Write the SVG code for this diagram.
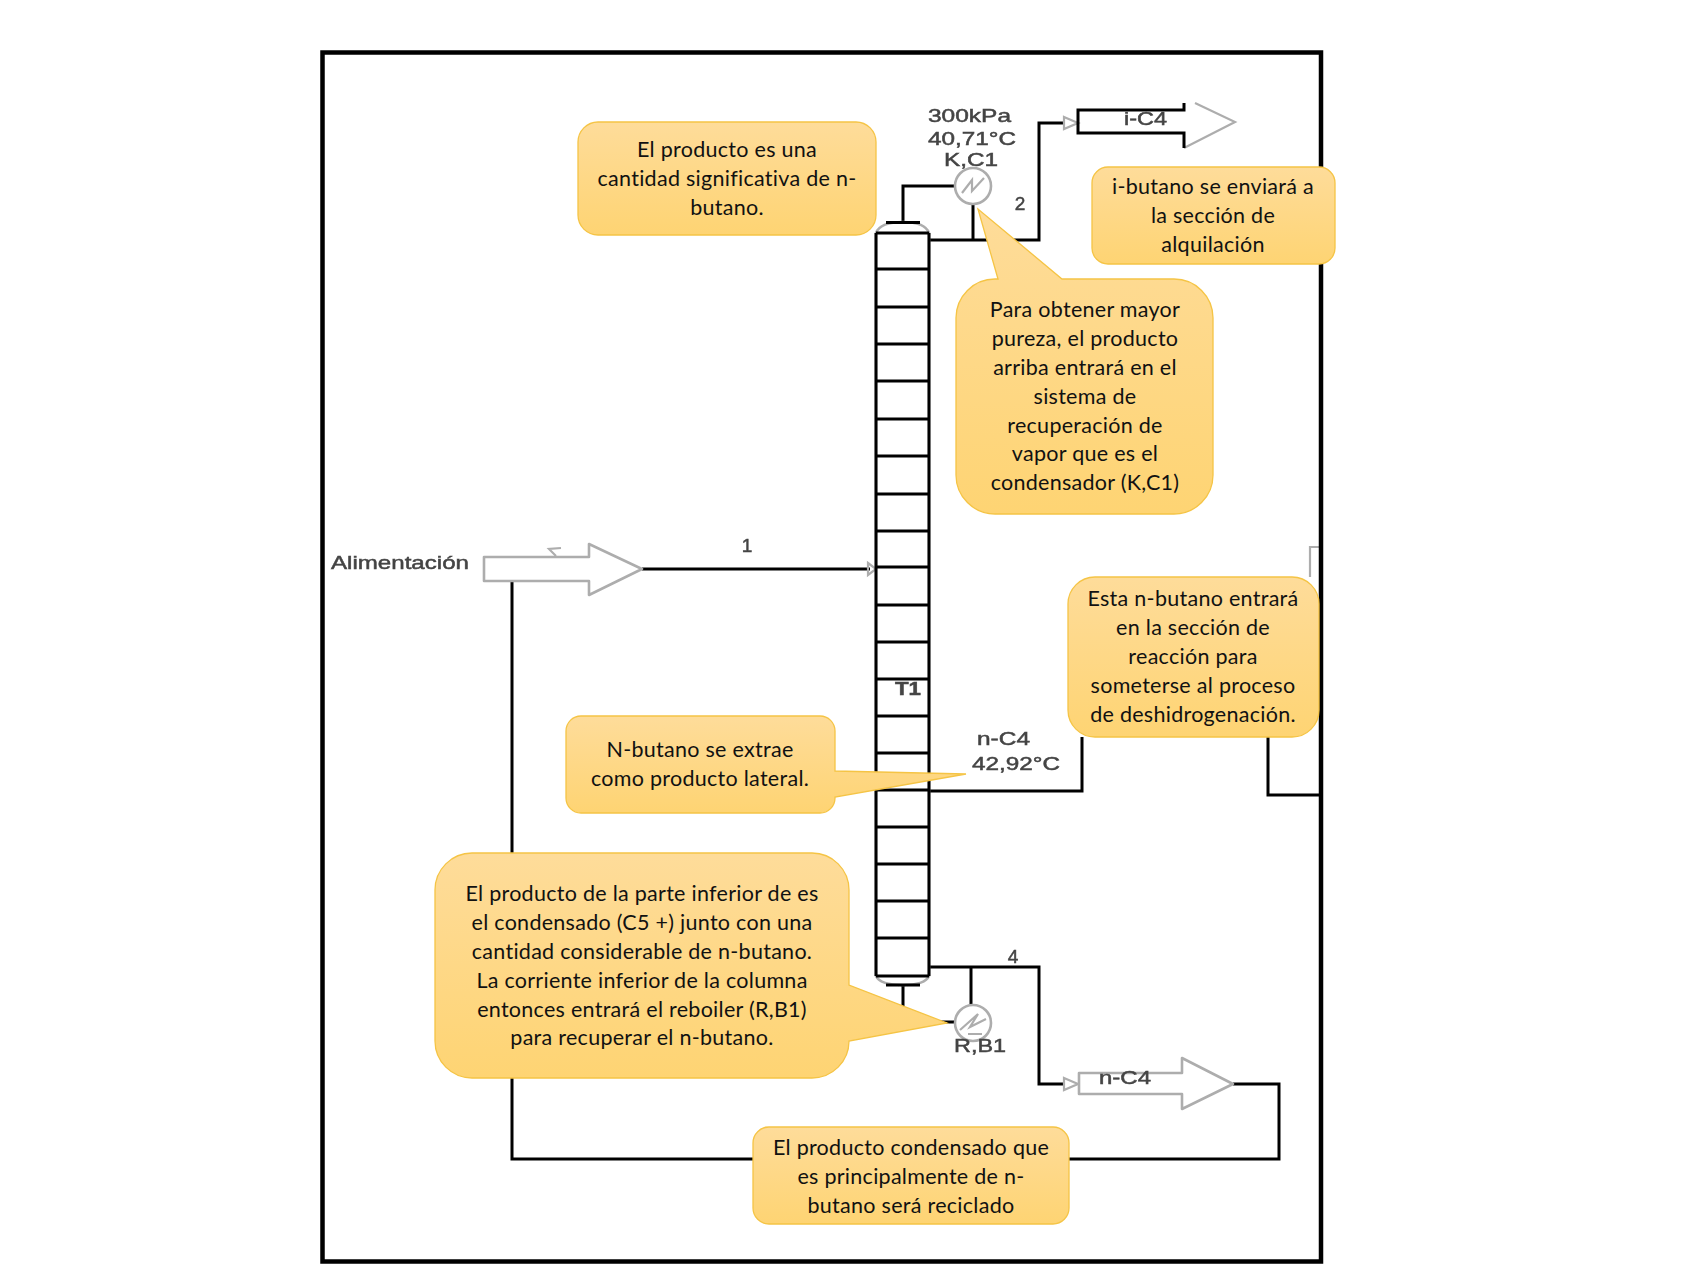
<svg xmlns="http://www.w3.org/2000/svg" width="1706" height="1280" viewBox="0 0 1706 1280">
<style>
.p{fill:none;stroke:#000;stroke-width:3;stroke-linejoin:miter}
.g{fill:#fff;stroke:#adadad;stroke-width:2.600;stroke-linejoin:round}
.g0{fill:none;stroke:#adadad;stroke-width:2.200}
.d{font-family:"Liberation Sans",Arial,sans-serif;font-size:19px;fill:#444;stroke:#444;stroke-width:.5}
.m{text-anchor:middle}
.c{fill:url(#cg);stroke:#f5c445;stroke-width:1.300}
.t{font-family:Lato,"Liberation Sans",sans-serif;font-size:21.500px;letter-spacing:.28px;fill:#111;text-anchor:middle}
</style>
<defs>
<linearGradient id="cg" x1="0" y1="0" x2="0" y2="1"><stop offset="0" stop-color="#fedc9a"/><stop offset="1" stop-color="#fed473"/></linearGradient>
<filter id="b" x="-5%" y="-5%" width="110%" height="110%"><feGaussianBlur stdDeviation="0.75"/></filter>
</defs>
<rect width="1706" height="1280" fill="#fff"/>
<g id="scan" filter="url(#b)">
<g id="connectors">
<path class="p" d="M642 569H870"/>
<path class="p" d="M512 581V1159H1279V1084H1233"/>
<path class="p" d="M929 240H1039V123H1063"/>
<path class="p" d="M903 222V186H955"/>
<path class="p" d="M973 198V240"/>
<path class="p" d="M929 791H1082V737"/>
<path class="p" d="M1268 737V795H1319"/>
<path class="g0" d="M1310 577V547H1319"/>
<path class="p" d="M929 967H1039V1084H1063"/>
<path class="p" d="M971 967V1008"/>
<path class="p" d="M903 985V1022H955"/>
<path class="g0" d="M868 563L876 569L868 575Z"/>
<path class="g0" d="M1064 117L1078 123L1064 129Z"/>
<path class="g0" d="M1064 1078L1078 1084L1064 1090Z"/>
</g>
<g id="column-T1">
<path class="g" d="M876 233Q880 222 903 222Q925 222 929 233V976Q925 985 903 985Q880 985 876 976Z"/>
<path class="p" d="M886 222.500H920M886 985H920M876 233V976M929 233V976"/>
<path class="p" stroke-width="2.600" d="M876 233H929M876 269H929M876 307H929M876 344H929M876 381H929M876 419H929M876 456H929M876 494H929M876 531H929M876 567H929M876 605H929M876 642H929M876 679H929M876 716H929M876 753H929M876 790H929M876 827H929M876 864H929M876 901H929M876 938H929M876 976H929"/>
<text class="d" x="895" y="695" textLength="26" lengthAdjust="spacingAndGlyphs" font-weight="bold">T1</text>
</g>
<g id="feed">
<path class="g" d="M484 557H589V544L642 569L589 595V581H484Z"/>
<path class="g0" d="M561 548L549 549L556 556"/>
<text class="d" x="331" y="569" textLength="138" lengthAdjust="spacingAndGlyphs">Alimentación</text>
<text class="d m" x="747" y="552">1</text>
</g>
<g id="condenser">
<circle class="g" cx="973" cy="186" r="18"/>
<path class="g0" d="M962 193L972 180V191L984 178"/>
<text class="d" x="928" y="122" textLength="83" lengthAdjust="spacingAndGlyphs">300kPa</text>
<text class="d" x="928" y="145" textLength="88" lengthAdjust="spacingAndGlyphs">40,71°C</text>
<text class="d" x="944" y="166" textLength="54" lengthAdjust="spacingAndGlyphs">K,C1</text>
<text class="d m" x="1020" y="210">2</text>
</g>
<g id="product-iC4">
<path class="g0" d="M1195 103L1235 122L1184 148"/>
<path class="p" d="M1184 103V110H1078V133H1184V148"/>
<text class="d" x="1124" y="125" textLength="43" lengthAdjust="spacingAndGlyphs">i-C4</text>
</g>
<g id="label-nC4">
<text class="d" x="977" y="745" textLength="53" lengthAdjust="spacingAndGlyphs">n-C4</text>
<text class="d" x="972" y="770" textLength="88" lengthAdjust="spacingAndGlyphs">42,92°C</text>
</g>
<g id="reboiler">
<circle class="g" cx="973" cy="1023" r="18"/>
<path class="g0" d="M960 1030L978 1014L970 1027L986 1019M968 1034H982"/>
<text class="d" x="954" y="1052" textLength="52" lengthAdjust="spacingAndGlyphs">R,B1</text>
<text class="d m" x="1013" y="963">4</text>
</g>
<g id="product-nC4">
<path class="g" d="M1079 1073H1182V1058L1233 1084L1182 1109V1094H1079Z"/>
<text class="d" x="1099" y="1084" textLength="52" lengthAdjust="spacingAndGlyphs">n-C4</text>
</g>
</g>
<rect id="frame" x="322.500" y="52.500" width="998.500" height="1209" fill="none" stroke="#000" stroke-width="4.500"/>
<g id="callout-1"><rect class="c" x="578" y="122" width="298" height="113" rx="20"/>
<text class="t" x="727" y="157">El producto es una</text><text class="t" x="727" y="186">cantidad significativa de n-</text><text class="t" x="727" y="215">butano.</text></g>
<g id="callout-2"><rect class="c" x="1092" y="167" width="243" height="97" rx="16"/>
<text class="t" x="1213" y="194">i-butano se enviará a</text><text class="t" x="1213" y="223">la sección de</text><text class="t" x="1213" y="252">alquilación</text></g>
<g id="callout-3"><path class="c" d="M998 279L978 209L1062 279H1174A39 39 0 0 1 1213 318V475A39 39 0 0 1 1174 514H995A39 39 0 0 1 956 475V318A39 39 0 0 1 995 279Z"/>
<text class="t" x="1085" y="317">Para obtener mayor</text><text class="t" x="1085" y="346">pureza, el producto</text><text class="t" x="1085" y="375">arriba entrará en el</text><text class="t" x="1085" y="404">sistema de</text><text class="t" x="1085" y="433">recuperación de</text><text class="t" x="1085" y="461">vapor que es el</text><text class="t" x="1085" y="490">condensador (K,C1)</text></g>
<g id="callout-4"><rect class="c" x="1068" y="577" width="251" height="160" rx="27"/>
<text class="t" x="1193" y="606">Esta n-butano entrará</text><text class="t" x="1193" y="635">en la sección de</text><text class="t" x="1193" y="664">reacción para</text><text class="t" x="1193" y="693">someterse al proceso</text><text class="t" x="1193" y="722">de deshidrogenación.</text></g>
<g id="callout-5"><path class="c" d="M581 716H820A15 15 0 0 1 835 731V771L966 774L835 797V798A15 15 0 0 1 820 813H581A15 15 0 0 1 566 798V731A15 15 0 0 1 581 716Z"/>
<text class="t" x="700" y="757">N-butano se extrae</text><text class="t" x="700" y="786">como producto lateral.</text></g>
<g id="callout-6"><path class="c" d="M472 853H812A37 37 0 0 1 849 890V985L947 1023L849 1041A37 37 0 0 1 812 1078H472A37 37 0 0 1 435 1041V890A37 37 0 0 1 472 853Z"/>
<text class="t" x="642" y="901">El producto de la parte inferior de es</text><text class="t" x="642" y="930">el condensado (C5 +) junto con una</text><text class="t" x="642" y="959">cantidad considerable de n-butano.</text><text class="t" x="642" y="988">La corriente inferior de la columna</text><text class="t" x="642" y="1017">entonces entrará el reboiler (R,B1)</text><text class="t" x="642" y="1045">para recuperar el n-butano.</text></g>
<g id="callout-7"><rect class="c" x="753" y="1127" width="316" height="97" rx="16"/>
<text class="t" x="911" y="1155">El producto condensado que</text><text class="t" x="911" y="1184">es principalmente de n-</text><text class="t" x="911" y="1213">butano será reciclado</text></g>
</svg>
